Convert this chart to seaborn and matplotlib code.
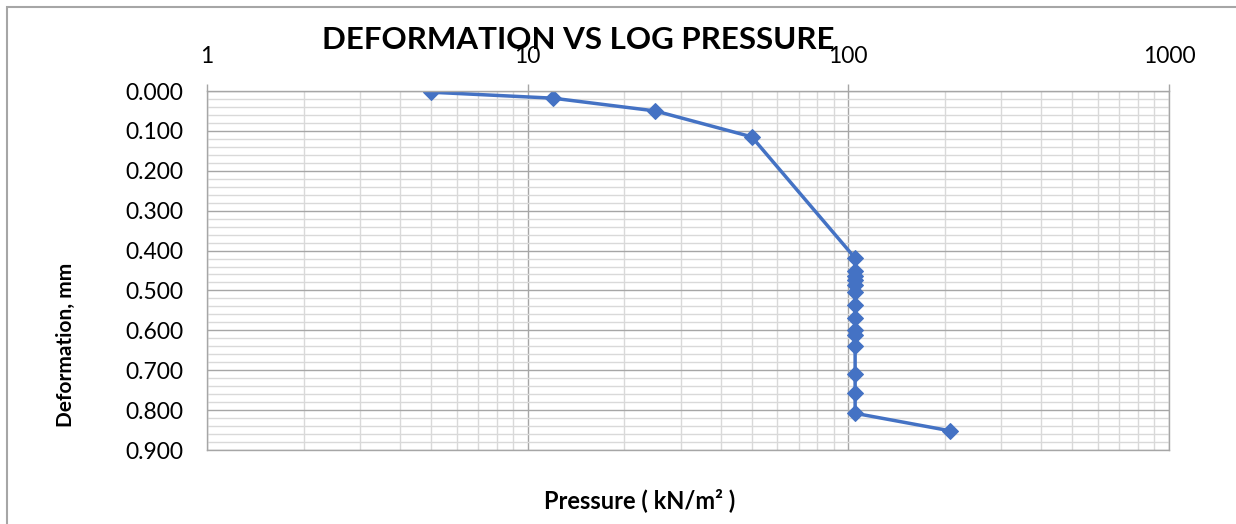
import matplotlib
matplotlib.use("Agg")
import matplotlib.pyplot as plt
import matplotlib.ticker as mticker
from matplotlib.patches import Rectangle
import seaborn as sns
import pandas as pd

# Data
pressure = [5, 12, 25, 50, 105, 105, 105, 105, 105, 105, 105, 105, 105, 105, 105, 105, 105, 105, 208]
deformation = [0.003, 0.018, 0.050, 0.115, 0.419, 0.450, 0.465, 0.474, 0.486, 0.503,
               0.536, 0.570, 0.599, 0.611, 0.639, 0.710, 0.758, 0.808, 0.852]
x_ticks = [1, 10, 100, 1000]
x_tick_labels = ["1", "10", "100", "1000"]
y_ticks = [0.0, 0.1, 0.2, 0.3, 0.4, 0.5, 0.6, 0.7, 0.8, 0.9]

title = "DEFORMATION VS LOG PRESSURE"
xlabel = "Pressure ( kN/m² )"
ylabel = "Deformation, mm"

sns.set_style("white")
plt.rcParams['font.family'] = ['Lato', 'DejaVu Sans']

df = pd.DataFrame({"pressure": pressure, "deformation": deformation})

W, H = 1236, 524
fig = plt.figure(figsize=(W / 100, H / 100), dpi=100)
L, R, T, B = 207, 1169, 91, 450
ax = fig.add_axes([L / W, 1 - B / H, (R - L) / W, (B - T) / H])

line_color = "#4472C4"
sns.lineplot(data=df, x="pressure", y="deformation", sort=False, estimator=None,
             color=line_color, linewidth=2.5, marker="D", markersize=8,
             markeredgecolor=line_color, markerfacecolor=line_color, ax=ax)

ax.set_xscale("log")
ax.set_xlim(1, 1000)
ax.set_ylim(0.9, 0.0)

ax.xaxis.set_major_locator(mticker.FixedLocator(x_ticks))
ax.xaxis.set_major_formatter(mticker.FixedFormatter(x_tick_labels))
ax.xaxis.set_minor_locator(mticker.LogLocator(base=10, subs=range(2, 10)))
ax.xaxis.set_minor_formatter(mticker.NullFormatter())
ax.set_yticks(y_ticks)
ax.yaxis.set_major_formatter(mticker.FormatStrFormatter("%.3f"))
ax.yaxis.set_minor_locator(mticker.MultipleLocator(0.02))

ax.xaxis.tick_top()
ax.xaxis.set_label_position("top")

grid_major = "#a6a6a6"
grid_minor = "#d9d9d9"
ax.grid(True, which="major", color=grid_major, linewidth=1.0)
ax.grid(True, which="minor", color=grid_minor, linewidth=1.0)
ax.set_axisbelow(True)

ax.tick_params(axis="x", which="major", direction="out", length=5, width=1, color=grid_major,
               labelsize=16.5, pad=12, top=True, bottom=False, labelcolor="black")
ax.tick_params(axis="x", which="minor", length=0)
ax.tick_params(axis="y", which="major", direction="out", length=5, width=1, color=grid_major,
               labelsize=16.5, pad=12, labelcolor="black")
ax.tick_params(axis="y", which="minor", direction="in", length=5, width=1, color=grid_major)

for s in ax.spines.values():
    s.set_color(grid_major)
    s.set_linewidth(1.0)

ax.set_xlabel("")
ax.set_ylabel("")

fig.text(578 / W, 1 - 49 / H, title, ha="center", va="baseline",
         fontsize=22.5, fontweight="bold", color="black")
fig.text(640 / W, 1 - 500 / H, xlabel, ha="center", va="center",
         fontsize=17, fontweight="bold", color="black")
fig.text(66 / W, 1 - 345 / H, ylabel, ha="center", va="center", rotation=90,
         fontsize=15, fontweight="bold", color="black")

fig.patches.append(Rectangle((7 / W, -0.2), 2.0, 1.2 - 7 / H, transform=fig.transFigure,
                             fill=False, edgecolor="#a6a6a6", linewidth=1.5))

fig.savefig("out.png", dpi=100)
